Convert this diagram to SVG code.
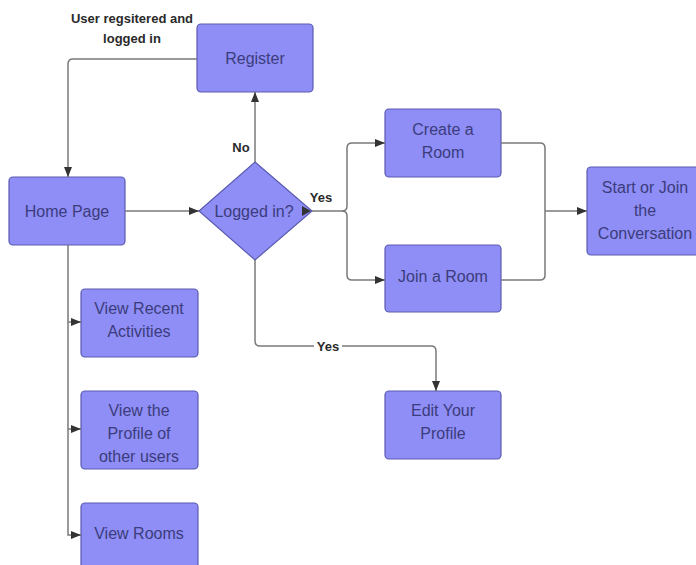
<svg xmlns="http://www.w3.org/2000/svg" width="696" height="565" viewBox="0 0 696 565">
<style>
.n{fill:#8e8ef6;stroke:#5a5ab0;stroke-width:1.2}
.t{font-family:"Liberation Sans",Arial,sans-serif;font-size:16px;fill:#3c3c7c;text-anchor:middle}
.l{font-family:"Liberation Sans",Arial,sans-serif;font-size:13px;font-weight:bold;fill:#2a2a2a;text-anchor:middle}
.c{fill:none;stroke:#7a7a7a;stroke-width:1.5}
</style>
<defs>
<marker id="a" viewBox="0 0 10 10" refX="10" refY="5" markerWidth="10" markerHeight="10" markerUnits="userSpaceOnUse" orient="auto">
<path d="M0,1 L10,5 L0,9 Z" fill="#333"/>
</marker>
</defs>
<rect width="696" height="565" fill="#fff"/>
<g id="register"><rect class="n" x="197" y="24" width="116" height="68" rx="4"/><text class="t" x="255" y="64">Register</text></g>
<g id="home"><rect class="n" x="9" y="177" width="116" height="68" rx="4"/><text class="t" x="67" y="217">Home Page</text></g>
<g id="logged"><path class="n" d="M255,162 L312,211 L255,260 L199,211 Z"/><text class="t" x="254" y="217">Logged in?</text></g>
<g id="create"><rect class="n" x="385" y="109" width="116" height="68" rx="4"/><text class="t" x="443" y="135">Create a</text><text class="t" x="443" y="158">Room</text></g>
<g id="join"><rect class="n" x="385" y="245" width="116" height="67" rx="4"/><text class="t" x="443" y="282">Join a Room</text></g>
<g id="start"><rect class="n" x="587" y="167" width="116" height="88" rx="4"/><text class="t" x="645" y="193">Start or Join</text><text class="t" x="645" y="216">the</text><text class="t" x="645" y="239">Conversation</text></g>
<g id="recent"><rect class="n" x="81" y="289" width="117" height="68" rx="4"/><text class="t" x="139" y="314">View Recent</text><text class="t" x="139" y="337">Activities</text></g>
<g id="profile"><rect class="n" x="81" y="391" width="117" height="78" rx="4"/><text class="t" x="139" y="416">View the</text><text class="t" x="139" y="439">Profile of</text><text class="t" x="139" y="462">other users</text></g>
<g id="rooms"><rect class="n" x="81" y="503" width="117" height="68" rx="4"/><text class="t" x="139" y="539">View Rooms</text></g>
<g id="edit"><rect class="n" x="385" y="391" width="116" height="68" rx="4"/><text class="t" x="443" y="416">Edit Your</text><text class="t" x="443" y="439">Profile</text></g>
<g id="connectors">
<path class="c" d="M125,211 H199" marker-end="url(#a)"/>
<path class="c" d="M255,162 V92" marker-end="url(#a)"/>
<path class="c" d="M197,59 H73 Q68,59 68,64 V177" marker-end="url(#a)"/>
<path class="c" d="M312,211 H342 Q347,211 347,206 V148 Q347,143 352,143 H385" marker-end="url(#a)"/>
<path class="c" d="M342,211 Q347,211 347,216 V275 Q347,280 352,280 H385" marker-end="url(#a)"/>
<path class="c" d="M501,143 H540 Q545,143 545,148 V275 Q545,280 540,280 H501"/>
<path class="c" d="M545,211 H587" marker-end="url(#a)"/>
<path class="c" d="M68,245 V535 H81" marker-end="url(#a)"/>
<path class="c" d="M68,322 H81" marker-end="url(#a)"/>
<path class="c" d="M68,429 H81" marker-end="url(#a)"/>
<path class="c" d="M255,260 V341 Q255,346 260,346 H431 Q436,346 436,351 V391" marker-end="url(#a)"/>
<path d="M302,206 L311,211 L302,216 Z" fill="#333"/>
<text class="l" x="132" y="23">User regsitered and</text>
<text class="l" x="132" y="43">logged in</text>
<text class="l" x="241" y="152">No</text>
<text class="l" x="321" y="202">Yes</text>
<rect x="314" y="339" width="28" height="14" fill="#fff"/>
<text class="l" x="328" y="351">Yes</text>
</g>
</svg>
